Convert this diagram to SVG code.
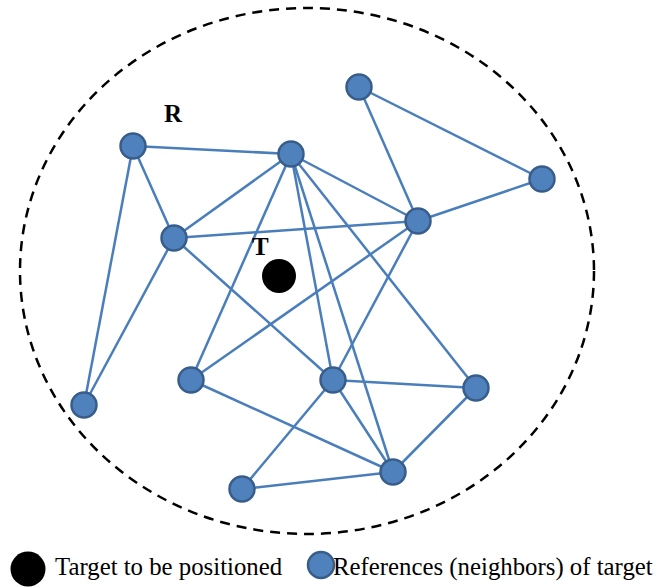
<svg xmlns="http://www.w3.org/2000/svg" width="657" height="587" viewBox="0 0 657 587">
<style>
.e{stroke:#4A7EBB;stroke-width:2.5;fill:none}
.n{fill:#4F81BD;stroke:#385D8A;stroke-width:2.5}
.lbl{font-family:"Liberation Serif","Times New Roman",serif;font-weight:bold;font-size:25px;fill:#000}
.leg{font-family:"Liberation Serif","Times New Roman",serif;font-size:24.8px;fill:#000}
</style>
<rect width="657" height="587" fill="#fff"/>
<ellipse id="range" cx="307" cy="271" rx="287" ry="263" fill="none" stroke="#000" stroke-width="2.5" stroke-dasharray="10,7"/>
<g id="connectors">
<line class="e" x1="133" y1="146" x2="291" y2="154"/>
<line class="e" x1="133" y1="146" x2="174" y2="238"/>
<line class="e" x1="133" y1="146" x2="84" y2="405"/>
<line class="e" x1="174" y1="238" x2="84" y2="405"/>
<line class="e" x1="174" y1="238" x2="291" y2="154"/>
<line class="e" x1="174" y1="238" x2="418" y2="221"/>
<line class="e" x1="174" y1="238" x2="333" y2="380"/>
<line class="e" x1="291" y1="154" x2="191" y2="380"/>
<line class="e" x1="291" y1="154" x2="418" y2="221"/>
<line class="e" x1="291" y1="154" x2="333" y2="380"/>
<line class="e" x1="291" y1="154" x2="393" y2="472"/>
<line class="e" x1="291" y1="154" x2="476" y2="388"/>
<line class="e" x1="359" y1="87" x2="418" y2="221"/>
<line class="e" x1="359" y1="87" x2="542" y2="179"/>
<line class="e" x1="542" y1="179" x2="418" y2="221"/>
<line class="e" x1="418" y1="221" x2="191" y2="380"/>
<line class="e" x1="418" y1="221" x2="333" y2="380"/>
<line class="e" x1="333" y1="380" x2="476" y2="388"/>
<line class="e" x1="333" y1="380" x2="393" y2="472"/>
<line class="e" x1="333" y1="380" x2="242" y2="489"/>
<line class="e" x1="191" y1="380" x2="393" y2="472"/>
<line class="e" x1="476" y1="388" x2="393" y2="472"/>
<line class="e" x1="242" y1="489" x2="393" y2="472"/>
</g>
<g id="nR"><circle class="n" cx="133" cy="146" r="12.5"/></g>
<g id="nB"><circle class="n" cx="291" cy="154" r="12.5"/></g>
<g id="nC"><circle class="n" cx="174" cy="238" r="12.5"/></g>
<g id="nD"><circle class="n" cx="359" cy="87" r="12.5"/></g>
<g id="nE"><circle class="n" cx="542" cy="179" r="12.5"/></g>
<g id="nF"><circle class="n" cx="418" cy="221" r="12.5"/></g>
<g id="nG"><circle class="n" cx="84" cy="405" r="12.5"/></g>
<g id="nH"><circle class="n" cx="191" cy="380" r="12.5"/></g>
<g id="nI"><circle class="n" cx="333" cy="380" r="12.5"/></g>
<g id="nJ"><circle class="n" cx="476" cy="388" r="12.5"/></g>
<g id="nK"><circle class="n" cx="393" cy="472" r="12.5"/></g>
<g id="nL"><circle class="n" cx="242" cy="489" r="12.5"/></g>
<g id="target"><circle cx="279" cy="276" r="17" fill="#000"/></g>
<text class="lbl" x="164" y="122">R</text>
<text class="lbl" x="252" y="255">T</text>
<g id="legend">
<ellipse cx="28" cy="569" rx="17.5" ry="17.5" fill="#000"/>
<text class="leg" x="55" y="575">Target to be positioned</text>
<circle class="n" cx="321" cy="565" r="13"/>
<text class="leg" x="333" y="575">References (neighbors) of target</text>
</g>
</svg>
